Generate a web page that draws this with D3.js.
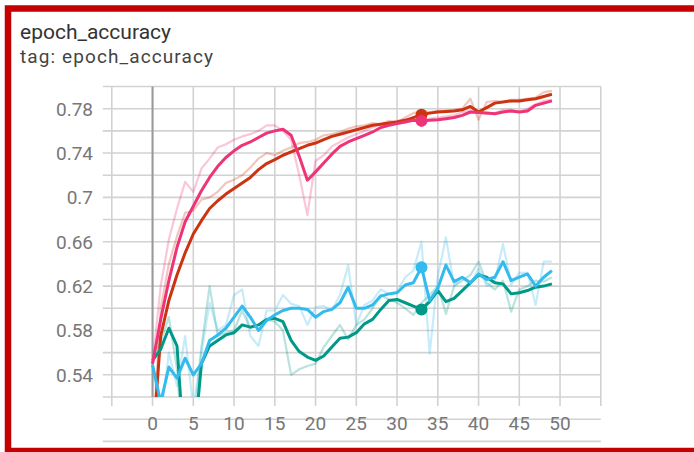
<!DOCTYPE html>
<html>
<head>
<meta charset="utf-8">
<script src="https://cdn.jsdelivr.net/npm/d3@7"></script>
<style>
  html, body { margin: 0; padding: 0; background: #fff; }
  svg { display: block; font-family: Roboto, "Noto Sans", sans-serif; }
</style>
</head>
<body>
<svg id="chart" width="694" height="452"></svg>
<script>
// Epoch index shared by all runs
const epochs = [0,1,2,3,4,5,6,7,8,9,10,11,12,13,14,15,16,17,18,19,20,21,22,23,24,25,26,27,28,29,30,31,32,33,34,35,36,37,38,39,40,41,42,43,44,45,46,47,48,49];

// Run 1 (red-orange)
const orangeSmooth = [0.475,0.575,0.607,0.630,0.650,0.667,0.679,0.690,0.697,0.703,0.708,0.713,0.718,0.725,0.7305,0.734,0.738,0.741,0.744,0.747,0.749,0.752,0.755,0.757,0.759,0.761,0.763,0.765,0.766,0.767,0.768,0.7695,0.772,0.7745,0.776,0.777,0.7775,0.778,0.779,0.782,0.777,0.781,0.785,0.786,0.787,0.787,0.788,0.789,0.791,0.793];
const orangeRaw = [0.475,0.60,0.64,0.665,0.686,0.688,0.698,0.700,0.705,0.713,0.716,0.720,0.727,0.735,0.740,0.738,0.742,0.745,0.749,0.750,0.752,0.756,0.757,0.759,0.762,0.764,0.765,0.767,0.766,0.769,0.768,0.772,0.776,0.778,0.777,0.778,0.778,0.779,0.780,0.789,0.770,0.786,0.787,0.786,0.788,0.788,0.789,0.790,0.795,0.796];

// Run 2 (magenta)
const pinkSmooth = [0.55,0.59,0.625,0.655,0.678,0.692,0.706,0.718,0.728,0.736,0.742,0.747,0.750,0.754,0.758,0.760,0.7615,0.756,0.737,0.7155,0.723,0.731,0.739,0.746,0.750,0.753,0.756,0.759,0.763,0.765,0.7665,0.768,0.7695,0.769,0.7695,0.770,0.771,0.772,0.774,0.777,0.7765,0.776,0.7755,0.777,0.778,0.777,0.778,0.783,0.785,0.787];
const pinkRaw = [0.55,0.62,0.662,0.69,0.714,0.705,0.726,0.735,0.745,0.748,0.752,0.755,0.757,0.760,0.765,0.765,0.760,0.752,0.72,0.684,0.733,0.738,0.746,0.750,0.754,0.757,0.760,0.763,0.766,0.767,0.769,0.770,0.771,0.768,0.771,0.772,0.773,0.774,0.777,0.778,0.777,0.775,0.776,0.779,0.779,0.777,0.780,0.784,0.787,0.788];

// Run 3 (cyan)
const blueSmooth = [0.549,0.515,0.547,0.537,0.555,0.540,0.550,0.571,0.576,0.582,0.592,0.602,0.592,0.580,0.589,0.594,0.598,0.600,0.600,0.599,0.592,0.597,0.599,0.605,0.619,0.600,0.600,0.603,0.611,0.613,0.614,0.621,0.623,0.637,0.607,0.618,0.639,0.624,0.628,0.623,0.631,0.626,0.628,0.642,0.625,0.628,0.631,0.620,0.628,0.634];
const blueRaw = [0.549,0.50,0.56,0.53,0.575,0.51,0.56,0.605,0.58,0.585,0.612,0.617,0.575,0.566,0.598,0.598,0.612,0.604,0.602,0.585,0.601,0.602,0.598,0.612,0.639,0.585,0.603,0.607,0.617,0.613,0.615,0.628,0.634,0.660,0.559,0.629,0.664,0.620,0.628,0.621,0.636,0.620,0.625,0.658,0.621,0.632,0.632,0.603,0.642,0.642];

// Run 4 (teal)
const tealSmooth = [0.553,0.563,0.582,0.566,0.46,0.47,0.55,0.566,0.571,0.576,0.578,0.585,0.583,0.585,0.590,0.591,0.588,0.571,0.561,0.556,0.553,0.557,0.565,0.573,0.574,0.578,0.586,0.590,0.599,0.607,0.608,0.605,0.602,0.599,0.606,0.616,0.606,0.609,0.616,0.623,0.630,0.628,0.623,0.622,0.613,0.614,0.616,0.619,0.620,0.622];
const tealRaw = [0.553,0.57,0.592,0.545,0.45,0.49,0.565,0.62,0.575,0.578,0.58,0.598,0.582,0.585,0.59,0.588,0.58,0.54,0.545,0.548,0.55,0.565,0.575,0.585,0.572,0.585,0.59,0.60,0.612,0.608,0.605,0.60,0.594,0.605,0.612,0.62,0.595,0.62,0.625,0.63,0.642,0.623,0.617,0.625,0.597,0.617,0.62,0.625,0.624,0.628];

// Axis tick labels
const xTickLabels = ["0","5","10","15","20","25","30","35","40","45","50"];
const yTickLabels = ["0.54","0.58","0.62","0.66","0.7","0.74","0.78"];

// Hovered step highlighted with a dot on each run
const highlightEpoch = 33;

const runs = [
  { color: "#cc3311", smooth: orangeSmooth, raw: orangeRaw },
  { color: "#009988", smooth: tealSmooth,   raw: tealRaw },
  { color: "#33bbee", smooth: blueSmooth,   raw: blueRaw },
  { color: "#ee3377", smooth: pinkSmooth,   raw: pinkRaw }
];

const svg = d3.select("#chart");

// Card frame
svg.append("rect")
  .attr("x", 8).attr("y", 8.5)
  .attr("width", 700).attr("height", 442.5)
  .attr("fill", "none")
  .attr("stroke", "#c40000")
  .attr("stroke-width", 6.5);

// Title block
svg.append("text")
  .attr("x", 20).attr("y", 39)
  .attr("font-size", 21)
  .attr("fill", "#333")
  .text("epoch_accuracy");
svg.append("text")
  .attr("x", 20).attr("y", 63)
  .attr("font-size", 19)
  .attr("letter-spacing", 1.1)
  .attr("fill", "#444")
  .text("tag: epoch_accuracy");

const x = d3.scaleLinear().domain([-5, 55]).range([111.8, 600.8]);
const y = d3.scaleLinear().domain([0.52, 0.80]).range([397, 86.5]);

const grid = svg.append("g");
const gridColor = "#d2d2d2";

// Horizontal grid every 0.02 with short left ticks
const yGrid = d3.range(26, 81, 2).map(v => v / 100);
grid.selectAll("line.h").data(yGrid).join("line")
  .attr("class", "h")
  .attr("x1", x(-5) - 9).attr("x2", x(55))
  .attr("y1", d => y(d)).attr("y2", d => y(d))
  .attr("stroke", gridColor).attr("stroke-width", 1.6);

// Vertical grid every 5 epochs with short bottom ticks
const xGrid = d3.range(-5, 56, 5);
grid.selectAll("line.v").data(xGrid).join("line")
  .attr("class", "v")
  .attr("x1", d => x(d)).attr("x2", d => x(d))
  .attr("y1", y(0.80)).attr("y2", y(0.52) + 9)
  .attr("stroke", gridColor).attr("stroke-width", 1.6);

// Zero step line
grid.append("line")
  .attr("x1", x(0)).attr("x2", x(0))
  .attr("y1", y(0.80)).attr("y2", y(0.52))
  .attr("stroke", "#9a9a9a").attr("stroke-width", 2);

// Tick labels
svg.append("g").selectAll("text").data(yTickLabels).join("text")
  .attr("x", 93)
  .attr("y", d => y(+d))
  .attr("dy", "0.36em")
  .attr("text-anchor", "end")
  .attr("font-size", 19)
  .attr("fill", "#777")
  .text(d => d);

svg.append("g").selectAll("text").data(xTickLabels).join("text")
  .attr("x", d => x(+d))
  .attr("y", 430)
  .attr("text-anchor", "middle")
  .attr("font-size", 19)
  .attr("fill", "#777")
  .text(d => d);

// Plot clip
svg.append("defs").append("clipPath").attr("id", "plotClip")
  .append("rect")
  .attr("x", x(-5)).attr("y", y(0.80))
  .attr("width", x(55) - x(-5)).attr("height", y(0.52) - y(0.80));

const plot = svg.append("g").attr("clip-path", "url(#plotClip)");

const line = d3.line()
  .x((d, i) => x(epochs[i]))
  .y(d => y(d));

// Raw series (faded) underneath
runs.forEach(r => {
  plot.append("path")
    .attr("d", line(r.raw))
    .attr("fill", "none")
    .attr("stroke", r.color)
    .attr("stroke-opacity", 0.28)
    .attr("stroke-width", 2.2)
    .attr("stroke-linejoin", "round");
});

// Smoothed series
runs.forEach(r => {
  plot.append("path")
    .attr("d", line(r.smooth))
    .attr("fill", "none")
    .attr("stroke", r.color)
    .attr("stroke-width", 3)
    .attr("stroke-linejoin", "round");
});

// Highlight dots
runs.forEach(r => {
  const i = epochs.indexOf(highlightEpoch);
  plot.append("circle")
    .attr("cx", x(epochs[i]))
    .attr("cy", y(r.smooth[i]))
    .attr("r", 6)
    .attr("fill", r.color);
});
</script>
</body>
</html>
